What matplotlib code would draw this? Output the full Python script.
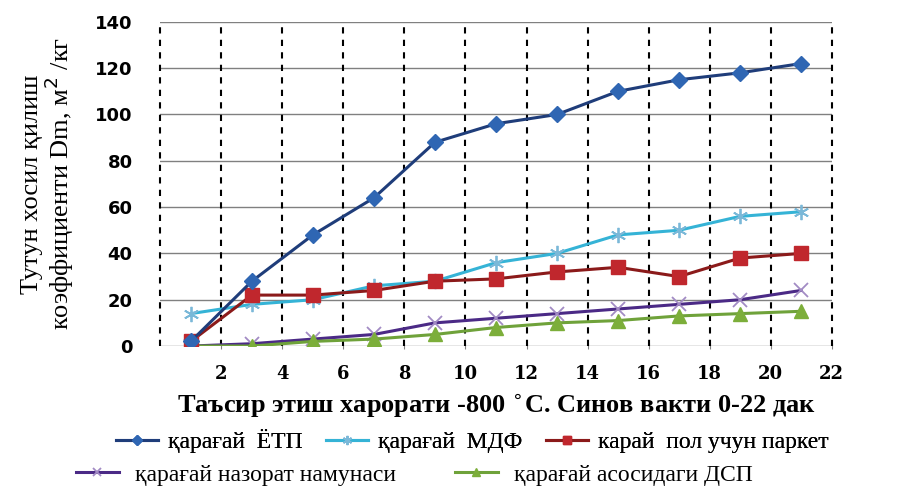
import matplotlib
matplotlib.use("Agg")
import matplotlib.pyplot as plt

x = [1, 3, 5, 7, 9, 11, 13, 15, 17, 19, 21]
etp = [2, 28, 48, 64, 88, 96, 100, 110, 115, 118, 122]
mdf = [14, 18, 20, 26, 28, 36, 40, 48, 50, 56, 58]
parket = [2, 22, 22, 24, 28, 29, 32, 34, 30, 38, 40]
nazorat = [0, 1, 3, 5, 10, 12, 14, 16, 18, 20, 24]
dsp = [0, 0, 2, 3, 5, 8, 10, 11, 13, 14, 15]
labels = ["қарағай  ЁТП", "қарағай  МДФ", "карай  пол учун паркет",
          "қарағай назорат намунаси", "қарағай асосидаги ДСП"]
xticks = list(range(2, 23, 2))
yticks = list(range(0, 141, 20))

fig = plt.figure(figsize=(9.01, 4.86), dpi=100)
ax = fig.add_axes([0.178, 0.288, 0.745, 0.667])

serif = "Liberation Serif"
s1, = ax.plot(x, etp, color="#1f3d7a", lw=2.2, marker="D", ms=8, mfc="#2f66b3", mec="#2f66b3", zorder=5)
s2, = ax.plot(x, mdf, color="#35b3d6", lw=2.2, marker=(6, 2, 0), ms=11, mew=1.3, mec="#7ab8d8", zorder=4)
s3, = ax.plot(x, parket, color="#8b1a1a", lw=2.2, marker="s", ms=10, mfc="#c0272d", mec="#c0272d", zorder=4)
s4, = ax.plot(x, nazorat, color="#4b2a86", lw=2.2, marker="x", ms=10, mew=1.3, mec="#a28bc4", zorder=3)
s5, = ax.plot(x, dsp, color="#6fa23a", lw=2.2, marker="^", ms=10, mfc="#7cae3a", mec="#7cae3a", zorder=3)

ax.set_xlim(0, 22)
ax.set_ylim(0, 140)
ax.set_xticks(xticks)
ax.set_yticks(yticks)
ax.grid(axis="y", color="#808080", lw=1.0, ls="-")
for xv in [0] + xticks:
    ax.axvline(xv, color="black", lw=1.5, ls=(0, (3, 3)), zorder=1, clip_on=False)
ax.set_axisbelow(True)
for sp in ax.spines.values():
    sp.set_visible(False)
ax.tick_params(axis="x", length=4, color="#808080", direction="inout", pad=12)
ax.tick_params(axis="y", length=0, pad=20)

for t in ax.get_xticklabels():
    t.set_fontfamily("DejaVu Serif")
    t.set_fontweight("bold")
    t.set_fontsize(13)
for t in ax.get_yticklabels():
    t.set_fontfamily("DejaVu Sans")
    t.set_fontweight("bold")
    t.set_fontsize(13)

ax.set_xlabel("Таъсир этиш харорати -800 $^{\\circ}$С. Синов вакти 0-22 дак",
              fontfamily=serif, fontweight="bold", fontsize=19, labelpad=6)
ax.set_ylabel("Тутун хосил қилиш\nкоэффициенти Dm, м$^2$ /кг",
              fontfamily=serif, fontsize=19, labelpad=14, linespacing=0.95)

leg1 = fig.legend([s1, s2, s3], labels[:3], loc="center", bbox_to_anchor=(0.524, 0.093),
                  ncol=3, frameon=False, prop={"family": serif, "size": 17},
                  handlelength=1.8, columnspacing=1.0, handletextpad=0.4, markerscale=0.6)
leg2 = fig.legend([s4, s5], labels[3:], loc="center", bbox_to_anchor=(0.46, 0.023),
                  ncol=2, frameon=False, prop={"family": serif, "size": 17},
                  handlelength=1.8, columnspacing=2.5, handletextpad=0.7, markerscale=0.6)
fig.add_artist(leg1)

fig.savefig("out.png", dpi=100)
